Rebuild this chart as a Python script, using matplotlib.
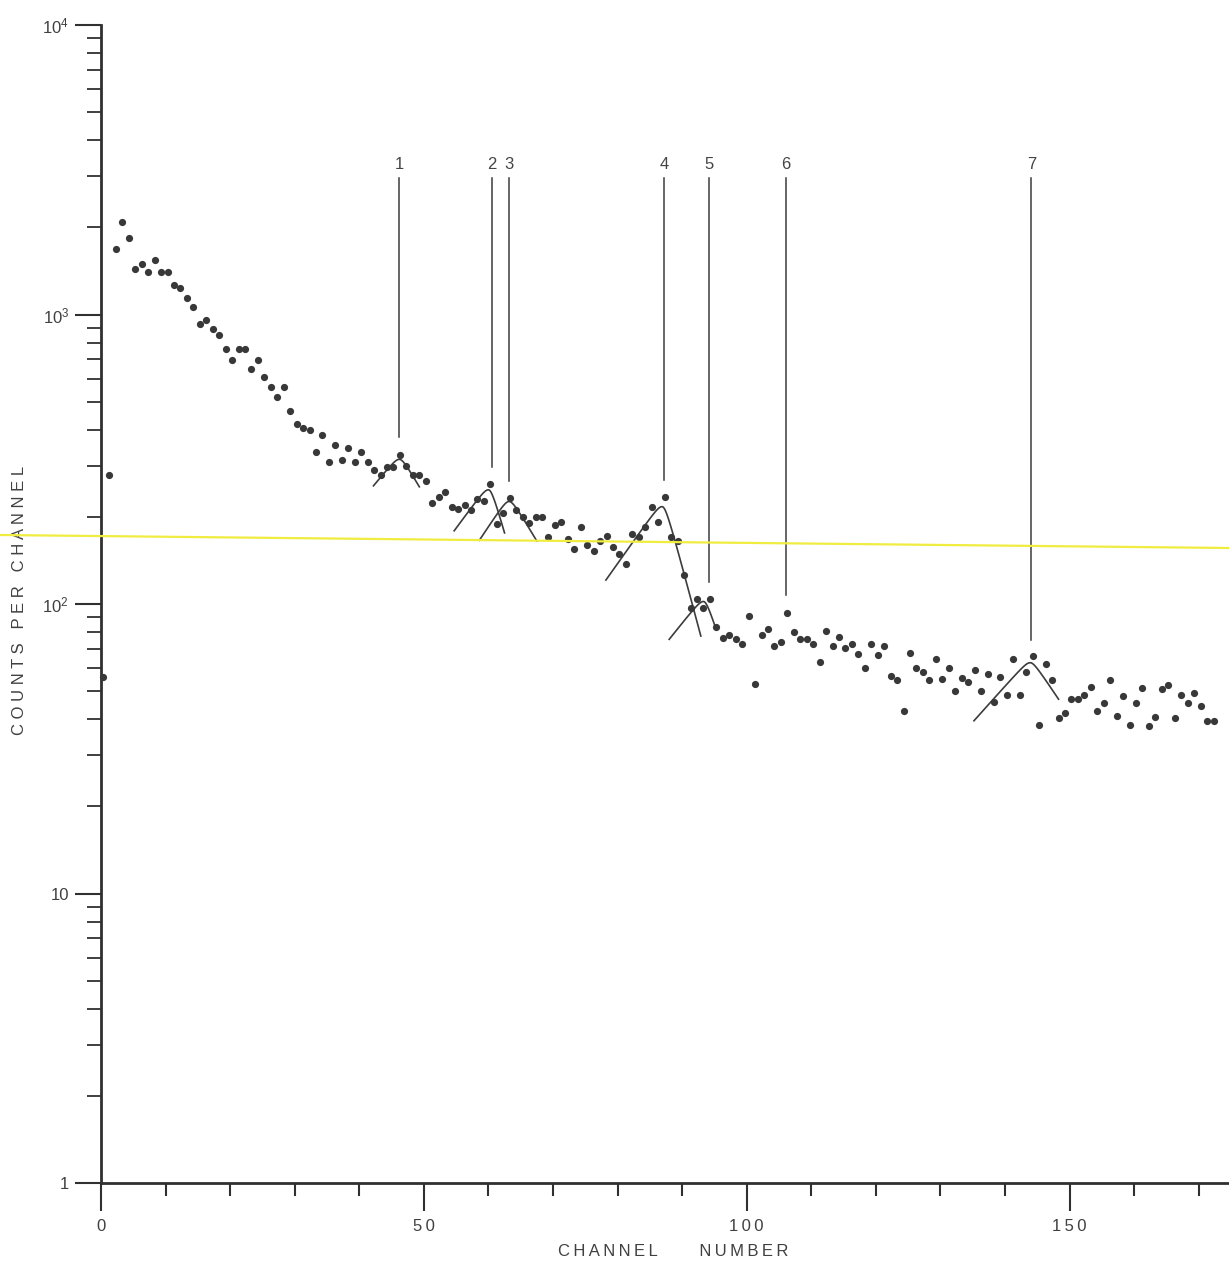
import numpy as np
import matplotlib
matplotlib.use("Agg")
import matplotlib.pyplot as plt
from matplotlib.lines import Line2D
from matplotlib.ticker import FixedLocator, LogLocator, NullFormatter

plt.rcParams['font.family'] = ['Liberation Sans', 'DejaVu Sans']
plt.rcParams['mathtext.fontset'] = 'custom'
plt.rcParams['mathtext.rm'] = 'Liberation Sans'

# counts per channel, channels 0..172
counts = [
    56, 279, 1680, 2080, 1840, 1432, 1490, 1400, 1540, 1400,
    1400, 1265, 1230, 1140, 1060, 930, 960, 890, 850, 760,
    695, 760, 760, 650, 695, 610, 560, 520, 560, 465,
    420, 405, 400, 335, 385, 310, 355, 315, 345, 310,
    335, 310, 290, 280, 298, 298, 327, 300, 280, 280,
    266, 223, 234, 243, 216, 213, 219, 211, 231, 226,
    260, 189, 207, 232, 211, 199, 190, 199, 200, 171,
    187, 192, 168, 155, 184, 160, 152, 165, 172, 157,
    149, 138, 174, 171, 185, 216, 192, 234, 170, 165,
    126, 97, 104, 97, 104, 83, 76.5, 78, 75.5, 73,
    91, 53, 78.3, 81.7, 71.8, 74, 93, 80, 75.5, 75.5,
    72.6, 63.2, 80.7, 71.8, 76.7, 70.3, 72.8, 67, 60.3, 72.8,
    66.5, 71.8, 56.5, 54.7, 42.7, 67.9, 60, 58, 54.7, 64.4,
    55.1, 60.1, 50, 55.5, 53.6, 59.1, 49.9, 57.5, 45.8, 56,
    48.5, 64.6, 48.5, 58.2, 66.3, 38.2, 61.9, 54.5, 40.3, 41.9,
    46.9, 46.9, 48.5, 51.8, 42.8, 45.5, 54.8, 40.9, 48.2, 38.2,
    45.4, 51.4, 38, 40.8, 50.8, 52.5, 40.3, 48.5, 45.4, 49.4,
    44.3, 39.3, 39.3,
]
channels = np.arange(len(counts))

# numbered peak markers
peak_labels = ['1', '2', '3', '4', '5', '6', '7']
peak_channel = [46.2, 60.5, 63.2, 87.2, 94.2, 106.1, 144.1]
peak_line_bottom = [377, 298, 265, 268, 119.5, 107.5, 75.2]
peak_line_top = 2960
peak_label_y = 3300

# fitted peak shapes: centre, height, left foot, right foot
fit_centre = [46.2, 60.0, 63.2, 86.9, 93.3, 143.9]
fit_height = [316, 248, 226, 217, 102, 62.7]
fit_left_ch = [42.2, 54.7, 58.6, 78.2, 88.0, 135.2]
fit_left_val = [256, 179, 166, 121, 75.5, 39.5]
fit_right_ch = [49.3, 62.5, 67.5, 92.9, 95.3, 148.3]
fit_right_val = [254, 176, 165, 77.5, 81.3, 46.9]

ink = '#303030'

fig = plt.figure(figsize=(12.29, 12.63), dpi=100)
ax = fig.add_axes([101 / 1229, 80 / 1263, 1 - 101 / 1229, (1183 - 25) / 1263])
ax.set_yscale('log')
ax.set_xlim(0, 174.7)
ax.set_ylim(1, 1e4)

ax.plot(channels + 0.3, counts, 'o', color='#383838', markersize=5.2,
        markeredgewidth=0, clip_on=False, zorder=3)

for lab, ch, bot in zip(peak_labels, peak_channel, peak_line_bottom):
    ax.plot([ch, ch], [bot, peak_line_top], color='#3c3c3c', lw=1.1)
    ax.text(ch, peak_label_y, lab, ha='center', va='center', fontsize=12,
            color='#444444')

# rounded-top fit curves (straight flanks in log space)
c = 0.7
for x0, h, xl, yl, xr, yr in zip(fit_centre, fit_height, fit_left_ch,
                                 fit_left_val, fit_right_ch, fit_right_val):
    lh = np.log10(h)
    sl = (lh - np.log10(yl)) / (np.hypot(x0 - xl, c) - c)
    sr = (lh - np.log10(yr)) / (np.hypot(xr - x0, c) - c)
    xs_l = np.linspace(xl, x0, 40)
    xs_r = np.linspace(x0, xr, 40)
    ys_l = 10 ** (lh - sl * (np.hypot(xs_l - x0, c) - c))
    ys_r = 10 ** (lh - sr * (np.hypot(xs_r - x0, c) - c))
    ax.plot(np.r_[xs_l, xs_r], np.r_[ys_l, ys_r], color='#3c3c3c', lw=1.2)

for side in ['top', 'right']:
    ax.spines[side].set_visible(False)
for side in ['left', 'bottom']:
    ax.spines[side].set_linewidth(2.0)
    ax.spines[side].set_color(ink)

ax.xaxis.set_major_locator(FixedLocator([0, 50, 100, 150]))
ax.xaxis.set_minor_locator(FixedLocator(np.arange(10, 175, 10)))
ax.set_xticklabels(['0', '5\u20090', '1\u20090\u20090', '1\u20095\u20090'])
ax.yaxis.set_major_locator(FixedLocator([1, 10, 100, 1000, 10000]))
ax.yaxis.set_minor_locator(LogLocator(base=10, subs=np.arange(2, 10)))
ax.yaxis.set_minor_formatter(NullFormatter())
ax.set_yticklabels(['1', '10', r'$\mathregular{10^2}$',
                    r'$\mathregular{10^3}$', r'$\mathregular{10^4}$'])

ax.tick_params(axis='both', which='major', direction='out', color=ink,
               width=1.5, labelsize=12, labelcolor='#404040')
ax.tick_params(axis='x', which='major', length=20, pad=6)
ax.tick_params(axis='y', which='major', length=19, pad=4)
ax.tick_params(axis='x', which='minor', direction='out', length=9.5,
               width=1.5, color=ink)
ax.tick_params(axis='y', which='minor', direction='out', length=10,
               width=1.3, color=ink)

fig.text(673 / 1229, 1 - 1252 / 1263,
         '\u2009'.join('CHANNEL') + '\u2003\u2003\u2002' + '\u2009'.join('NUMBER'),
         ha='center', va='center', fontsize=12, color='#404040')
fig.text(20 / 1229, 1 - 600 / 1263,
         ' '.join('COUNTS') + '   ' + ' '.join('PER') + '   ' + ' '.join('CHANNEL'),
         ha='center', va='center', rotation=90, fontsize=12, color='#404040')

# yellow scan line across the page
fig.add_artist(Line2D([0, 1], [1 - 535 / 1263, 1 - 548 / 1263],
                      transform=fig.transFigure, color='#f0ec40', lw=1.6,
                      zorder=10))

fig.savefig('out.png', dpi=100, facecolor='white')
